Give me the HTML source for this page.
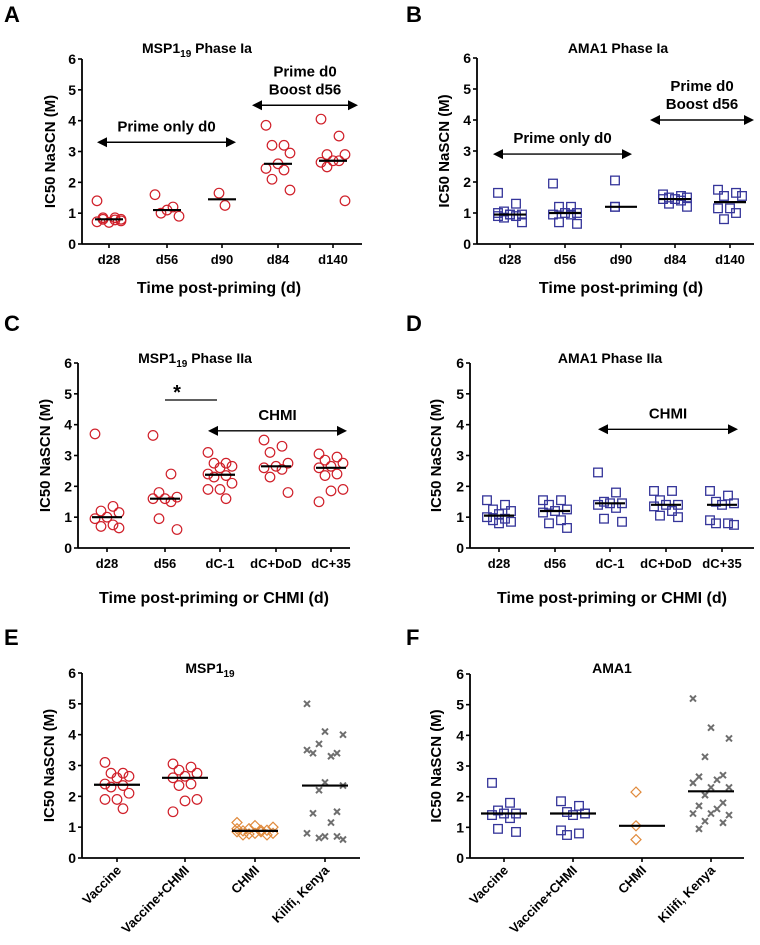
<!DOCTYPE html>
<html><head><meta charset="utf-8"><style>
body{margin:0;background:#fff;}
svg{display:block;font-family:"Liberation Sans",Arial,sans-serif;font-weight:bold;}
</style></head><body>
<svg id="fig" width="760" height="945" viewBox="0 0 760 945"></svg>
<script>
const catsA=["d28","d56","d90","d84","d140"];
const seriesA=[[1.4,0.85,0.8,0.75,0.7,0.72,0.78,0.85,0.8],[1.6,1.2,1.0,0.9,1.1],[1.65,1.25],[3.85,3.2,3.2,2.95,2.6,2.45,2.4,2.1,1.75],[4.05,3.5,2.9,2.9,2.7,2.65,2.7,2.5,1.4]];
const catsB=["d28","d56","d90","d84","d140"];
const seriesB=[[1.65,1.3,1.05,0.95,0.95,0.9,0.9,0.85,0.7,0.95,1.0],[1.95,1.2,1.2,1.0,1.0,0.95,0.95,0.7,0.65],[2.05,1.2,1.2],[1.6,1.55,1.5,1.5,1.45,1.45,1.4,1.3,1.2],[1.75,1.65,1.55,1.55,1.15,1.15,1.0,0.8]];
const catsC=["d28","d56","dC-1","dC+DoD","dC+35"];
const seriesC=[[3.7,1.35,1.2,1.15,1.0,0.95,0.75,0.7,0.65],[3.65,2.4,1.8,1.65,1.6,1.6,1.5,0.95,0.6],[3.1,2.75,2.75,2.65,2.6,2.4,2.35,2.3,2.1,1.9,1.9,1.6],[3.5,3.3,3.1,2.75,2.65,2.6,2.55,2.3,1.8],[3.05,2.95,2.85,2.75,2.65,2.6,2.4,2.35,1.9,1.85,1.5]];
const catsD=["d28","d56","dC-1","dC+DoD","dC+35"];
const seriesD=[[1.55,1.4,1.25,1.2,1.1,1.0,0.95,0.9,0.85,0.8],[1.55,1.55,1.4,1.25,1.2,1.15,0.9,0.8,0.65],[2.45,1.8,1.5,1.45,1.45,1.4,1.3,0.95,0.85],[1.85,1.85,1.55,1.4,1.4,1.35,1.2,1.05,1.0],[1.85,1.7,1.5,1.45,1.4,0.9,0.8,0.8,0.75]];
const catsE=["Vaccine","Vaccine+CHMI","CHMI","Kilifi, Kenya"];
const seriesE=[[3.1,2.75,2.75,2.65,2.6,2.4,2.35,2.3,2.1,1.9,1.9,1.6],[3.05,2.95,2.85,2.75,2.65,2.6,2.4,2.35,1.9,1.85,1.5],[1.15,1.05,1.0,0.95,0.9,0.88,0.85,0.85,0.8,0.8,0.78,0.75,0.75,0.9,0.95],[5.0,4.1,4.0,3.7,3.4,3.4,3.3,3.5,2.45,2.35,2.2,1.5,1.45,1.15,0.8,0.7,0.6,0.65,0.7]];
const catsF=["Vaccine","Vaccine+CHMI","CHMI","Kilifi, Kenya"];
const seriesF=[[2.45,1.8,1.55,1.45,1.45,1.4,1.3,0.95,0.85],[1.85,1.7,1.5,1.45,1.4,0.9,0.8,0.75,1.45],[2.15,1.05,0.6],[5.2,4.25,3.9,3.3,2.7,2.65,2.55,2.45,2.3,2.3,2.05,1.8,1.7,1.6,1.45,1.45,1.4,1.2,1.15,0.95]];
const yTicks=[0,1,2,3,4,5,6];

const NS="http://www.w3.org/2000/svg";
const svg=document.getElementById("fig");
function mk(tag,attrs,parent,txt){const e=document.createElementNS(NS,tag);for(const k in attrs)e.setAttribute(k,attrs[k]);if(txt!==undefined)e.textContent=txt;(parent||svg).appendChild(e);return e;}
function median(a){const s=[...a].sort((x,y)=>x-y);const n=s.length;return n%2?s[(n-1)/2]:(s[n/2-1]+s[n/2])/2;}
const RED="#d0202a",BLUE="#35359a",ORANGE="#e08a3c",GRAY="#6e6e6e";

function panel(o){
  const g=mk("g",{});
  
  
  const y=v=>o.y0+(o.y6-o.y0)*v/6;
  const x=i=>o.cx[i];
  const l=mk("text",{x:o.lx,y:o.ly,"font-size":22},g,o.letter);
  
  
  const t=mk("text",{x:o.tx,y:o.ty,"font-size":14,"text-anchor":"middle"},g);
  
  
  t.innerHTML=o.title;
  const ya=mk("line",{x1:o.ax,x2:o.ax,y1:o.y6,y2:o.y0,stroke:"#000","stroke-width":1.8},g);
  
  
  const xa=mk("line",{x1:o.ax,x2:o.axEnd,y1:o.y0,y2:o.y0,stroke:"#000","stroke-width":1.8},g);
  
  
  yTicks.forEach(v=>{
    mk("line",{x1:o.ax-4,x2:o.ax,y1:y(v),y2:y(v),stroke:"#000","stroke-width":1.6},g);
    const tl=mk("text",{x:o.ax-6,y:y(v)+5,"font-size":14,"text-anchor":"end"},g,String(v));
    
    
  });
  const yt=mk("text",{x:0,y:0,"font-size":15,"text-anchor":"middle",transform:`translate(${o.ytx},${(o.y0+o.y6)/2}) rotate(-90)`},g,"IC50 NaSCN (M)");
  
  
  o.cats.forEach((c,i)=>{
    mk("line",{x1:x(i),x2:x(i),y1:o.y0,y2:o.y0+4,stroke:"#000","stroke-width":1.6},g);
    let tl;
    if(o.rot) tl=mk("text",{x:0,y:0,"font-size":13,"text-anchor":"end",transform:`translate(${x(i)+5},${o.y0+13}) rotate(-45)`},g,c);
    else tl=mk("text",{x:x(i),y:o.y0+20,"font-size":13,"text-anchor":"middle"},g,c);
    
    
  });
  if(o.xt){const xt=mk("text",{x:o.xtx,y:o.xty,"font-size":16,"text-anchor":"middle"},g,o.xt);
    
    }
  o.series.forEach((vals,i)=>{
    const mkType=o.markers[i],col=o.colors[i];
    const n=vals.length, k=Math.min(n,n>12?7:5);
    vals.forEach((v,j)=>{
      const off=(((j*3)%k)-(k-1)/2)*o.jit;
      const px=x(i)+off,py=y(v);
      let m;
      if(mkType==="c") m=mk("circle",{cx:px,cy:py,r:4.8,fill:"none",stroke:col,"stroke-width":1.2},g);
      else if(mkType==="s") m=mk("rect",{x:px-4.3,y:py-4.3,width:8.6,height:8.6,fill:"none",stroke:col,"stroke-width":1.3},g);
      else if(mkType==="d") m=mk("polygon",{points:`${px},${py-5} ${px+5},${py} ${px},${py+5} ${px-5},${py}`,fill:"none",stroke:col,"stroke-width":1.2},g);
      else m=mk("path",{d:`M${px-3},${py-3}L${px+3},${py+3}M${px+3},${py-3}L${px-3},${py+3}`,stroke:col,"stroke-width":2},g);
      
      
    });
    const md=median(vals);
    const ml=mk("line",{x1:x(i)-o.mw,x2:x(i)+o.mw,y1:y(md),y2:y(md),stroke:"#000","stroke-width":2.2},g);
    
    
  });
  (o.arrows||[]).forEach(a=>{
    const ay=y(a.v);
    const ln=mk("line",{x1:a.x1+7,x2:a.x2-7,y1:ay,y2:ay,stroke:"#000","stroke-width":1.4},g);
    
    
    mk("polygon",{points:`${a.x1},${ay} ${a.x1+10},${ay-5} ${a.x1+10},${ay+5}`,fill:"#000"},g);
    mk("polygon",{points:`${a.x2},${ay} ${a.x2-10},${ay-5} ${a.x2-10},${ay+5}`,fill:"#000"},g);
    a.lines.forEach((s,k)=>{
      const at=mk("text",{x:(a.x1+a.x2)/2,y:ay-11-(a.lines.length-1-k)*18,"font-size":15,"text-anchor":"middle"},g,s);
      
      
    });
  });
  if(o.star){
    const sy=y(o.star.v);
    mk("line",{x1:o.star.x1,x2:o.star.x2,y1:sy,y2:sy,stroke:"#000","stroke-width":1.3},g);
    const st=mk("text",{x:o.star.x1+12,y:sy-1,"font-size":20,"text-anchor":"middle"},g,"*");
    
    
  }
}
const SUB='MSP1<tspan font-size="10" dy="4">19</tspan>';
panel({name:"panel-a",letter:"A",lx:4,ly:22,title:SUB+'<tspan dy="-4"> Phase Ia</tspan>',tx:197,ty:53,ax:82,axEnd:362,y0:244,y6:59,cx:[109,167,222,278,333],cats:catsA,series:seriesA,markers:["c","c","c","c","c"],colors:[RED,RED,RED,RED,RED],jit:6,mw:14,ytx:55,xt:"Time post-priming (d)",xtx:219,xty:293,
 arrows:[{v:3.3,x1:97,x2:236,lines:["Prime only d0"]},{v:4.5,x1:252,x2:358,lines:["Prime d0","Boost d56"]}]});
panel({name:"panel-b",letter:"B",lx:406,ly:22,title:"AMA1 Phase Ia",tx:618,ty:53,ax:477,axEnd:754,y0:244,y6:58,cx:[510,565,621,675,730],cats:catsB,series:seriesB,markers:["s","s","s","s","s"],colors:[BLUE,BLUE,BLUE,BLUE,BLUE],jit:6,mw:16,ytx:449,xt:"Time post-priming (d)",xtx:621,xty:293,
 arrows:[{v:2.9,x1:493,x2:632,lines:["Prime only d0"]},{v:4.0,x1:650,x2:754,lines:["Prime d0","Boost d56"]}]});
panel({name:"panel-c",letter:"C",lx:4,ly:331,title:SUB+'<tspan dy="-4"> Phase IIa</tspan>',tx:195,ty:363,ax:78,axEnd:350,y0:548,y6:363,cx:[107,165,220,276,331],cats:catsC,series:seriesC,markers:["c","c","c","c","c"],colors:[RED,RED,RED,RED,RED],jit:6,mw:15,ytx:50,xt:"Time post-priming or CHMI (d)",xtx:214,xty:603,
 arrows:[{v:3.8,x1:208,x2:347,lines:["CHMI"]}],star:{v:4.8,x1:165,x2:217}});
panel({name:"panel-d",letter:"D",lx:406,ly:331,title:"AMA1 Phase IIa",tx:610,ty:363,ax:470,axEnd:754,y0:548,y6:363,cx:[499,555,610,666,722],cats:catsD,series:seriesD,markers:["s","s","s","s","s"],colors:[BLUE,BLUE,BLUE,BLUE,BLUE],jit:6,mw:15,ytx:441,xt:"Time post-priming or CHMI (d)",xtx:612,xty:603,
 arrows:[{v:3.85,x1:598,x2:738,lines:["CHMI"]}]});
panel({name:"panel-e",letter:"E",lx:4,ly:645,title:SUB,tx:210,ty:673,ax:82,axEnd:360,y0:858,y6:673,cx:[117,185,255,325],cats:catsE,series:seriesE,markers:["c","c","d","x"],colors:[RED,RED,ORANGE,GRAY],jit:6,mw:23,ytx:54,rot:true});
panel({name:"panel-f",letter:"F",lx:406,ly:645,title:"AMA1",tx:612,ty:673,ax:470,axEnd:744,y0:858,y6:674,cx:[504,573,642,711],cats:catsF,series:seriesF,markers:["s","s","d","x"],colors:[BLUE,BLUE,ORANGE,GRAY],jit:6,mw:23,ytx:441,rot:true});
</script>
</body></html>
